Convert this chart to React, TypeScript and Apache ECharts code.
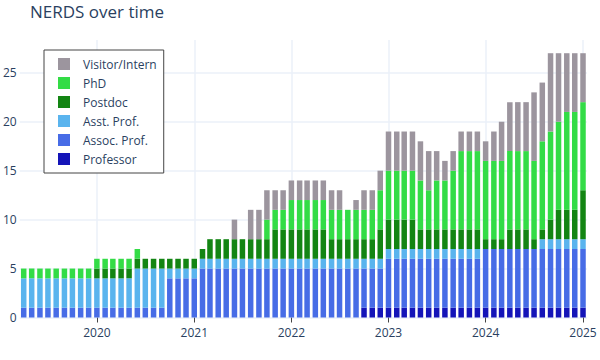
import React, { useEffect, useRef } from "react";
import * as echarts from "echarts";

// Monthly snapshots, 2019-04 .. 2025-01
const months = [
  "2019-04-01", "2019-05-01", "2019-06-01", "2019-07-01", "2019-08-01", "2019-09-01", "2019-10-01", "2019-11-01", "2019-12-01",
  "2020-01-01", "2020-02-01", "2020-03-01", "2020-04-01", "2020-05-01", "2020-06-01", "2020-07-01", "2020-08-01", "2020-09-01", "2020-10-01", "2020-11-01", "2020-12-01",
  "2021-01-01", "2021-02-01", "2021-03-01", "2021-04-01", "2021-05-01", "2021-06-01", "2021-07-01", "2021-08-01", "2021-09-01", "2021-10-01", "2021-11-01", "2021-12-01",
  "2022-01-01", "2022-02-01", "2022-03-01", "2022-04-01", "2022-05-01", "2022-06-01", "2022-07-01", "2022-08-01", "2022-09-01", "2022-10-01", "2022-11-01", "2022-12-01",
  "2023-01-01", "2023-02-01", "2023-03-01", "2023-04-01", "2023-05-01", "2023-06-01", "2023-07-01", "2023-08-01", "2023-09-01", "2023-10-01", "2023-11-01", "2023-12-01",
  "2024-01-01", "2024-02-01", "2024-03-01", "2024-04-01", "2024-05-01", "2024-06-01", "2024-07-01", "2024-08-01", "2024-09-01", "2024-10-01", "2024-11-01", "2024-12-01",
  "2025-01-01",
];

const professor = [
  0, 0, 0, 0, 0, 0, 0, 0, 0,
  0, 0, 0, 0, 0, 0, 0, 0, 0, 0, 0, 0,
  0, 0, 0, 0, 0, 0, 0, 0, 0, 0, 0, 0,
  0, 0, 0, 0, 0, 0, 0, 0, 0, 1, 1, 1,
  1, 1, 1, 1, 1, 1, 1, 1, 1, 1, 1, 1,
  1, 1, 1, 1, 1, 1, 1, 1, 1, 1, 1, 1,
  1,
];
const assocProf = [
  1, 1, 1, 1, 1, 1, 1, 1, 1,
  1, 1, 1, 1, 1, 1, 1, 1, 1, 4, 4, 4,
  4, 5, 5, 5, 5, 5, 5, 5, 5, 5, 5, 5,
  5, 5, 5, 5, 5, 5, 5, 5, 5, 4, 4, 4,
  5, 5, 5, 5, 5, 5, 5, 5, 5, 5, 5, 5,
  6, 6, 6, 6, 6, 6, 6, 6, 6, 6, 6, 6,
  6,
];
const asstProf = [
  3, 3, 3, 3, 3, 3, 3, 3, 3,
  3, 3, 3, 3, 3, 4, 4, 4, 4, 1, 1, 1,
  1, 1, 1, 1, 1, 1, 1, 1, 1, 1, 1, 1,
  1, 1, 1, 1, 1, 1, 1, 1, 1, 1, 1, 1,
  1, 1, 1, 1, 1, 1, 1, 1, 1, 1, 1, 1,
  0, 0, 0, 0, 0, 0, 0, 1, 1, 1, 1, 1,
  1,
];
const postdoc = [
  0, 0, 0, 0, 0, 0, 0, 0, 0,
  1, 1, 1, 1, 1, 1, 1, 1, 1, 1, 1, 1,
  1, 1, 2, 2, 2, 2, 2, 2, 2, 2, 3, 3,
  3, 3, 3, 3, 3, 2, 2, 2, 2, 2, 2, 3,
  3, 3, 3, 3, 2, 2, 2, 2, 2, 2, 2, 2,
  1, 1, 1, 2, 2, 2, 1, 1, 2, 3, 3, 3,
  5,
];
const phd = [
  1, 1, 1, 1, 1, 1, 1, 1, 1,
  1, 1, 1, 1, 1, 1, 0, 0, 0, 0, 0, 0,
  0, 0, 0, 0, 0, 0, 0, 0, 0, 2, 2, 2,
  3, 3, 3, 3, 3, 3, 3, 3, 3, 3, 3, 4,
  5, 5, 5, 5, 5, 4, 5, 5, 6, 8, 8, 8,
  8, 8, 8, 8, 8, 8, 8, 9, 9, 9, 10, 10,
  9,
];
const visitor = [
  0, 0, 0, 0, 0, 0, 0, 0, 0,
  0, 0, 0, 0, 0, 0, 0, 0, 0, 0, 0, 0,
  0, 0, 0, 0, 0, 2, 0, 3, 3, 3, 2, 2,
  2, 2, 2, 2, 2, 2, 2, 0, 1, 2, 2, 2,
  4, 4, 4, 4, 4, 4, 3, 2, 2, 2, 2, 2,
  2, 3, 4, 5, 5, 5, 7, 6, 8, 7, 6, 6,
  5,
];

const seriesNames = ["Professor", "Assoc. Prof.", "Asst. Prof.", "Postdoc", "PhD", "Visitor/Intern"];
const seriesValues = [professor, assocProf, asstProf, postdoc, phd, visitor];
const seriesColors = ["#1414B8", "#476CE6", "#5AB4EE", "#138513", "#33DC46", "#9C959E"];
const legendOrder = ["Visitor/Intern", "PhD", "Postdoc", "Asst. Prof.", "Assoc. Prof.", "Professor"];

const yearTicks = ["2020-01-01", "2021-01-01", "2022-01-01", "2023-01-01", "2024-01-01", "2025-01-01"];
const yTicks = [0, 5, 10, 15, 20, 25];
const xRange = ["2019-03-17", "2025-01-16"];

const FONT = '"Open Sans", verdana, arial, sans-serif';
const TEXT = "#2a3f5f";
const GRID = "#EBF0F8";

const ts = (d: string) => Date.parse(d + "T00:00:00Z");

export default function App() {
  const ref = useRef<HTMLDivElement>(null);
  useEffect(() => {
    if (!ref.current) return;
    const chart = echarts.init(ref.current, undefined, { renderer: "svg" });
    const yearValues = yearTicks.map(ts);
    chart.setOption({
      animation: false,
      backgroundColor: "#fff",
      textStyle: { fontFamily: FONT },
      title: {
        text: "NERDS over time",
        left: 30,
        top: 3,
        padding: 0,
        textStyle: { fontFamily: FONT, fontSize: 17, fontWeight: "normal", color: TEXT },
      },
      legend: {
        data: legendOrder,
        orient: "vertical",
        left: 44,
        top: 50,
        padding: [8, 7, 8, 14],
        itemGap: 7,
        itemWidth: 12,
        itemHeight: 12,
        icon: "rect",
        borderColor: "#444",
        borderWidth: 1,
        backgroundColor: "#fff",
        textStyle: { fontFamily: FONT, fontSize: 12, color: TEXT, padding: [0, 0, 0, 8] },
      },
      grid: { left: 18, right: 13, top: 40, bottom: 42.5, containLabel: false },
      xAxis: {
        type: "value",
        min: ts(xRange[0]),
        max: ts(xRange[1]),
        axisLine: { show: false },
        axisTick: {
          show: true,
          length: 5,
          lineStyle: { color: "#444", width: 1 },
          customValues: yearValues,
        },
        axisLabel: {
          customValues: yearValues,
          formatter: (v: number) => String(new Date(v).getUTCFullYear()),
          color: TEXT,
          fontSize: 12,
          fontFamily: FONT,
          margin: 9,
        },
        splitLine: { show: true, lineStyle: { color: GRID, width: 1.5 } },
      },
      yAxis: {
        type: "value",
        min: 0,
        max: 28.35,
        axisLine: { show: false },
        axisTick: { show: false, customValues: yTicks },
        axisLabel: {
          customValues: yTicks,
          color: TEXT,
          fontSize: 12,
          fontFamily: FONT,
          margin: 3,
        },
        splitLine: { show: true, lineStyle: { color: GRID, width: 1.5 } },
      },
      series: seriesNames.map((name, i) => ({
        name,
        type: "bar",
        stack: "total",
        barWidth: 5.5,
        itemStyle: { color: seriesColors[i] },
        encode: { x: 1, y: 0 },
        data: months.map((m, j) => [seriesValues[i][j], ts(m)]),
      })),
    });
    return () => chart.dispose();
  }, []);
  return <div ref={ref} style={{ position: "fixed", left: 0, top: 0, width: 600, height: 360 }} />;
}
